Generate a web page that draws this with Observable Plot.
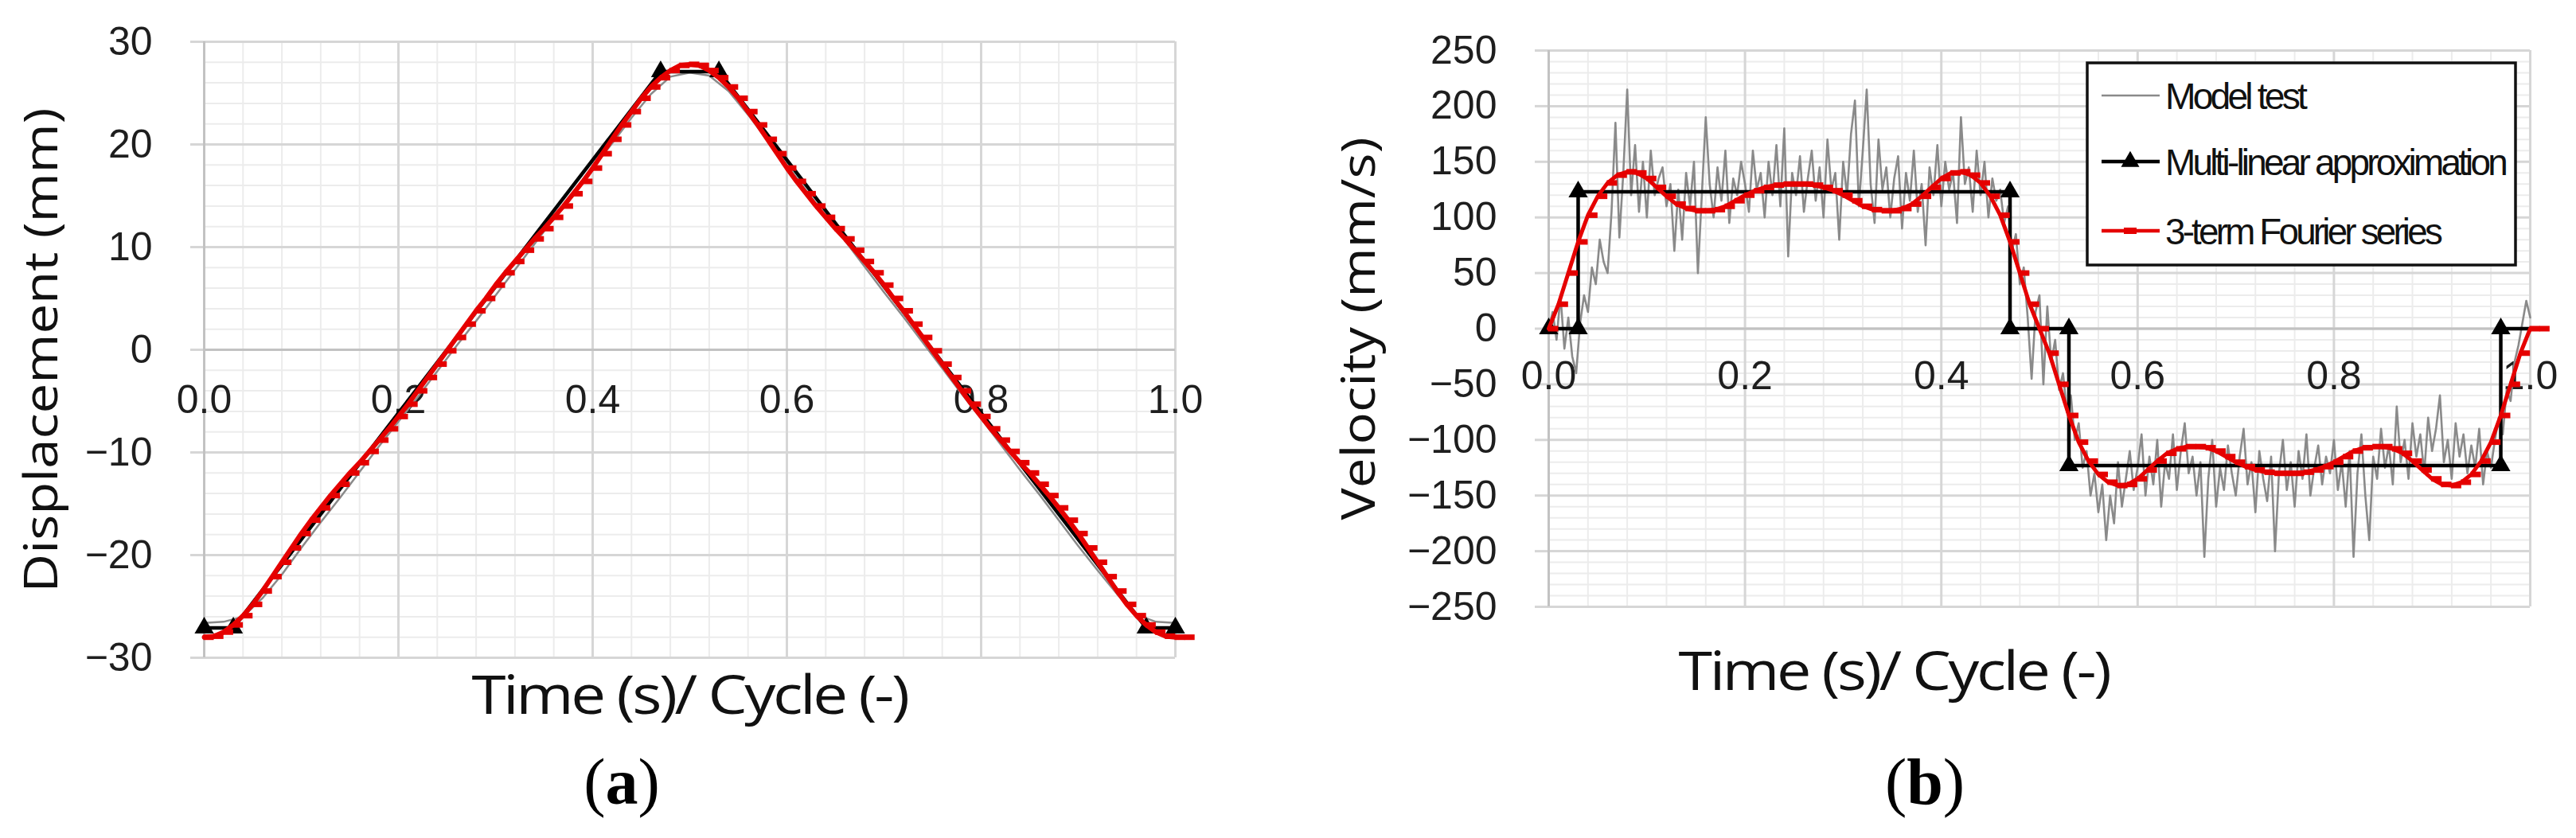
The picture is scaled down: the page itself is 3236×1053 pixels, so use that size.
<!DOCTYPE html>
<html><head><meta charset="utf-8">
<script src="https://cdn.jsdelivr.net/npm/d3@7"></script>
<script src="https://cdn.jsdelivr.net/npm/@observablehq/plot@0.6"></script>
<style>
html,body{margin:0;padding:0;background:#fff;}
#root{position:relative;width:3236px;height:1053px;overflow:hidden;background:#fff;}
#root > svg{position:absolute;}
</style></head><body><div id="root"></div>
<script>
// ---------------- DATA ----------------
const xTicks = [0, 0.2, 0.4, 0.6, 0.8, 1.0];
const yTicksA = [-30, -20, -10, 0, 10, 20, 30];
const yTicksB = [-250, -200, -150, -100, -50, 0, 50, 100, 150, 200, 250];

// (a) multi-linear approximation (displacement)
const multiDispT = [0, 0.03, 0.47, 0.53, 0.97, 1.0];
const multiDispV = [-27.1, -27.1, 27.1, 27.1, -27.1, -27.1];

// (a) 3-term Fourier series (displacement), sampled every 0.01 from 0 to 1.01
const fourierDisp = [
  -28.0,-27.9,-27.5,-26.8,-25.9,-24.8,-23.5,-22.1,-20.7,-19.3,
  -17.9,-16.6,-15.4,-14.2,-13.1,-12.0,-11.0,-9.9,-8.8,-7.7,
  -6.5,-5.3,-4.0,-2.7,-1.4,-0.1,1.2,2.5,3.8,5.0,
  6.3,7.5,8.6,9.7,10.8,11.8,12.9,14.0,15.2,16.4,
  17.7,19.1,20.5,21.9,23.2,24.5,25.6,26.5,27.2,27.7,
  27.8,27.7,27.2,26.5,25.6,24.5,23.2,21.9,20.5,19.1,
  17.7,16.4,15.2,14.0,12.9,11.8,10.8,9.7,8.6,7.5,
  6.3,5.0,3.8,2.5,1.2,-0.1,-1.4,-2.7,-4.0,-5.3,
  -6.5,-7.7,-8.8,-9.9,-11.0,-12.0,-13.1,-14.2,-15.4,-16.6,
  -17.9,-19.3,-20.7,-22.1,-23.5,-24.8,-25.9,-26.8,-27.5,-27.9,
  -28.0,-28.0
];

// (a) model test (displacement), sampled every 0.02
const modelDisp = [
  -26.6,-26.5,-26.0,-24.2,-21.9,-19.3,-16.8,-14.4,-11.9,-9.4,
  -7.0,-4.6,-2.1,0.4,2.8,5.3,7.8,10.3,12.8,15.2,
  17.7,20.1,22.6,24.9,26.6,27.0,26.7,25.2,22.9,20.4,
  18.0,15.5,13.0,10.6,8.1,5.6,3.2,0.7,-1.8,-4.3,
  -6.7,-9.2,-11.7,-14.1,-16.6,-19.1,-21.5,-23.8,-25.8,-26.5,
  -26.6
];

// (b) multi-linear approximation (velocity)
const multiVelT = [0, 0.03, 0.03, 0.47, 0.47, 0.53, 0.53, 0.97, 0.97, 1.0];
const multiVelV = [0, 0, 123, 123, 0, 0, -123, -123, 0, 0];
const multiVelMarkers = [0, 1, 2, 3, 4, 5, 6, 7, 8]; // indices carrying a triangle

// (b) 3-term Fourier series (velocity), sampled every 0.01 from 0 to 1.01
const fourierVel = [
  0,22,50,78,102,119,131,138,141,140,
  135,127,119,112,108,106,106,107,110,115,
  120,124,127,129,130,130,130,129,127,124,
  120,115,110,107,106,106,108,112,119,127,
  135,140,141,138,131,119,102,78,50,22,
  0,-22,-50,-78,-102,-119,-131,-138,-141,-140,
  -135,-127,-119,-112,-108,-106,-106,-107,-110,-115,
  -120,-124,-127,-129,-130,-130,-130,-129,-127,-124,
  -120,-115,-110,-107,-106,-106,-108,-112,-119,-127,
  -135,-140,-141,-138,-131,-119,-102,-78,-50,-22,
  0,0
];

// (b) model test (velocity), sampled every 0.004 from 0 to 1
const modelVel = [
  0,15,-10,30,-18,10,-25,-40,5,30,15,55,40,80,60,50,105,185,82,140,215,120,165,105,150,
  100,160,120,135,145,110,130,70,125,80,140,110,150,50,120,190,130,100,145,115,160,95,135,120,150,
  130,105,160,125,140,100,150,120,165,110,180,65,140,120,155,105,135,160,115,145,100,170,125,140,80,
  150,120,175,205,110,160,215,130,95,170,125,145,100,135,155,90,140,115,160,105,130,75,145,120,165,
  110,150,125,140,95,190,130,145,105,160,120,150,100,135,115,125,95,110,70,85,40,55,10,-45,15,
  30,-50,20,-30,-10,-55,-40,-75,-60,-100,-85,-125,-110,-150,-130,-165,-140,-190,-150,-175,-120,-160,-135,-110,-145,
  -125,-95,-150,-115,-140,-100,-160,-120,-135,-95,-145,-110,-85,-130,-115,-150,-120,-205,-135,-100,-160,-125,-145,-105,-130,
  -150,-115,-90,-140,-120,-165,-110,-135,-155,-115,-200,-130,-100,-145,-120,-160,-110,-135,-95,-150,-125,-105,-140,-115,-130,
  -100,-145,-120,-160,-110,-205,-130,-95,-150,-190,-115,-135,-90,-125,-105,-140,-70,-120,-100,-135,-85,-115,-95,-130,-80,
  -110,-90,-60,-120,-100,-135,-85,-115,-95,-130,-105,-125,-90,-140,-110,-125,-100,-80,-95,-55,-65,-30,-15,5,25,10
];

const seriesNames = ["Model test", "Multi-linear approximation", "3-term Fourier series"];
const xTitle = "Time (s)/ Cycle (-)";
const yTitleA = "Displacement (mm)";
const yTitleB = "Velocity (mm/s)";

// ---------------- TABLES ----------------
const fourierDispData = fourierDisp.map((v, i) => ({t: i * 0.01, v}));
const modelDispData = modelDisp.map((v, i) => ({t: i * 0.02, v}));
const multiDispData = multiDispT.map((t, i) => ({t, v: multiDispV[i]}));
const fourierVelData = fourierVel.map((v, i) => ({t: i * 0.01, v}));
const modelVelData = modelVel.map((v, i) => ({t: i * 0.004, v}));
const multiVelData = multiVelT.map((t, i) => ({t, v: multiVelV[i]}));
const multiVelMarkerData = multiVelMarkers.map(i => multiVelData[i]);

// ---------------- STYLE ----------------
const FONT = "'Liberation Sans', Arial, sans-serif";
const MINOR = "#ececec", MAJOR = "#d6d6d6", AXIS = "#c2c2c2";
const RED = "#e50000", GREY = "#8a8a8a", INK = "#1e1e1e";
const xMinorGrid = d3.range(0.04, 1.0, 0.04).filter(d => Math.abs(d / 0.2 - Math.round(d / 0.2)) > 1e-6);
const dashSymbol = {draw(ctx) { ctx.moveTo(-1, -3.5); ctx.lineTo(12, -3.5); ctx.lineTo(12, 3.5); ctx.lineTo(-1, 3.5); ctx.closePath(); }};

function buildPanel(cfg) {
  const fmtX = d3.format(".1f");
  return Plot.plot({
    width: cfg.width, height: cfg.height,
    marginLeft: cfg.mL, marginRight: cfg.mR, marginTop: cfg.mT, marginBottom: cfg.mB,
    x: {domain: [0, 1], axis: null},
    y: {domain: cfg.yDomain},
    clip: false,
    style: {fontFamily: FONT, fontSize: "50px", color: INK, background: "transparent", overflow: "visible"},
    marks: [
      Plot.ruleX(xMinorGrid, {stroke: MINOR, strokeWidth: 2}),
      Plot.ruleY(cfg.yMinor, {stroke: MINOR, strokeWidth: 2}),
      Plot.ruleX(xTicks, {stroke: MAJOR, strokeWidth: 3}),
      Plot.ruleY(cfg.yTicks, {stroke: MAJOR, strokeWidth: 3}),
      Plot.axisY({ticks: cfg.yTicks, tickSize: 17, tickPadding: 48, stroke: MAJOR, strokeWidth: 3, fill: INK,
                  fontSize: 50, fontFamily: FONT, label: null, tickFormat: d3.format("d")}),
      Plot.ruleX([0], {stroke: AXIS, strokeWidth: 3}),
      Plot.ruleY([0], {stroke: AXIS, strokeWidth: 3}),
      Plot.text(xTicks, {x: d => d, y: () => 0, dy: cfg.xLabelDy, text: d => fmtX(d), fontSize: 50, fontFamily: FONT, fill: INK}),
      ...cfg.marks
    ]
  });
}

const root = document.getElementById("root");

const panelA = buildPanel({
  width: 1600, height: 960, mL: 256, mR: 124, mT: 52, mB: 134,
  yDomain: [-30, 30], yTicks: yTicksA,
  yMinor: d3.range(-28, 30, 2).filter(d => d % 10 !== 0),
  xLabelDy: 63,
  marks: [
    Plot.line(modelDispData, {x: "t", y: "v", stroke: GREY, strokeWidth: 2.5}),
    Plot.line(multiDispData, {x: "t", y: "v", stroke: "#000", strokeWidth: 4.5}),
    Plot.dot(multiDispData, {x: "t", y: "v", symbol: "triangle", r: 9, fill: "#000", stroke: "none"}),
    Plot.line(fourierDispData, {x: "t", y: "v", stroke: RED, strokeWidth: 6}),
    Plot.dot(fourierDispData, {x: "t", y: "v", symbol: dashSymbol, fill: RED, stroke: "none"})
  ]
});
panelA.style.left = "0px"; panelA.style.top = "0px";
root.appendChild(panelA);

const panelB = buildPanel({
  width: 1636, height: 960, mL: 345, mR: 58, mT: 63, mB: 198,
  yDomain: [-250, 250], yTicks: yTicksB,
  yMinor: d3.range(-240, 250, 10).filter(d => d % 50 !== 0),
  xLabelDy: 60,
  marks: [
    Plot.line(modelVelData, {x: "t", y: "v", stroke: GREY, strokeWidth: 2.6}),
    Plot.line(multiVelData, {x: "t", y: "v", stroke: "#000", strokeWidth: 4.5}),
    Plot.dot(multiVelMarkerData, {x: "t", y: "v", symbol: "triangle", r: 9, fill: "#000", stroke: "none"}),
    Plot.line(fourierVelData, {x: "t", y: "v", stroke: RED, strokeWidth: 5}),
    Plot.dot(fourierVelData, {x: "t", y: "v", symbol: dashSymbol, fill: RED, stroke: "none"})
  ]
});
panelB.style.left = "1600px"; panelB.style.top = "0px";
root.appendChild(panelB);

// ---------------- TITLES, LEGEND, CAPTIONS ----------------
const ov = d3.select(root).append("svg")
  .attr("width", 3236).attr("height", 1053)
  .style("left", "0px").style("top", "0px");

const TFONT = "'Open Sans', 'Noto Sans', sans-serif";
function title(x, y, txt, len, size, spacing, rot) {
  ov.append("text")
    .attr("transform", `translate(${x},${y})` + (rot ? " rotate(-90)" : ""))
    .attr("text-anchor", "middle").attr("font-family", TFONT).attr("font-size", size)
    .attr("letter-spacing", spacing)
    .attr("fill", "#111").attr("textLength", len).attr("lengthAdjust", "spacingAndGlyphs")
    .text(txt);
}
title(72, 440, yTitleA, 609, 58, 0, true);
title(1727, 413, yTitleB, 481, 58, 0, true);
title(866, 897, xTitle, 547, 68, -3, false);
title(2379, 867, xTitle, 541, 68, -3, false);

function caption(x, letter) {
  const t = ov.append("text").attr("x", x).attr("y", 1010).attr("text-anchor", "middle")
    .attr("font-family", "'Liberation Serif', 'Times New Roman', serif").attr("font-size", 82).attr("fill", "#000");
  t.append("tspan").text("(");
  t.append("tspan").attr("font-weight", "bold").text(letter);
  t.append("tspan").text(")");
}
caption(781, "a");
caption(2418, "b");

// legend
const lg = ov.append("g");
lg.append("rect").attr("x", 2622).attr("y", 79).attr("width", 538).attr("height", 254)
  .attr("fill", "#fff").attr("stroke", "#111").attr("stroke-width", 3.5);
const rows = [
  {y: 120, base: 137, len: 175, kind: "model"},
  {y: 203, base: 220, len: 427, kind: "multi"},
  {y: 290, base: 307, len: 345, kind: "fourier"}
];
rows.forEach((r, i) => {
  const col = r.kind === "model" ? GREY : r.kind === "multi" ? "#000" : RED;
  lg.append("line").attr("x1", 2640).attr("x2", 2713).attr("y1", r.y).attr("y2", r.y)
    .attr("stroke", col).attr("stroke-width", r.kind === "model" ? 2.5 : 4.5);
  if (r.kind === "multi") {
    lg.append("path").attr("d", d3.symbol(d3.symbolTriangle, 230)()).attr("transform", `translate(2676,${r.y})`).attr("fill", "#000");
  }
  if (r.kind === "fourier") {
    lg.append("rect").attr("x", 2668).attr("y", r.y - 4).attr("width", 16).attr("height", 8).attr("fill", RED);
  }
  lg.append("text").attr("x", 2720).attr("y", r.base).attr("font-family", FONT).attr("font-size", 46)
    .attr("letter-spacing", -3.8)
    .attr("fill", "#111").attr("textLength", r.len).attr("lengthAdjust", "spacingAndGlyphs")
    .text(seriesNames[i]);
});
</script>
</body></html>
